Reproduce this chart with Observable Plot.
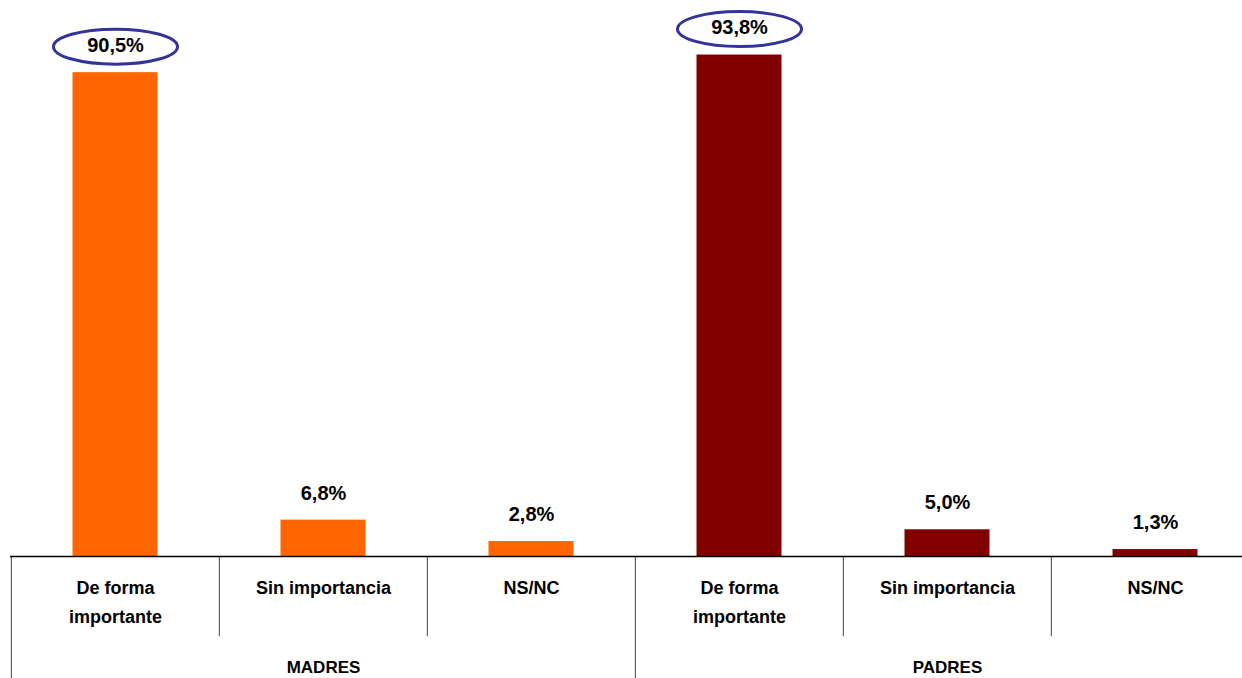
<!DOCTYPE html>
<html>
<head>
<meta charset="utf-8">
<script src="https://cdn.jsdelivr.net/npm/d3@7"></script>
<script src="https://cdn.jsdelivr.net/npm/@observablehq/plot@0.6"></script>
<style>
  html, body { margin: 0; padding: 0; background: #fff; }
  #chart svg { display: block; }
</style>
</head>
<body>
<div id="chart"></div>
<script>
// ---- data ----
const groups = ["MADRES", "PADRES"];
const categories = ["De forma\nimportante", "Sin importancia", "NS/NC"];
const madres = [90.5, 6.8, 2.8];
const padres = [93.8, 5.0, 1.3];
const groupColors = ["#FF6600", "#800000"];

const seriesByGroup = [madres, padres];
const rows = groups.flatMap((g, gi) =>
  categories.map((c, ci) => ({
    group: g,
    category: c,
    first: ci === 0,
    middle: ci === 1,
    key: g + "|" + c,
    value: seriesByGroup[gi][ci]
  }))
);

const fmt = v => v.toFixed(1).replace(".", ",") + "%";
const font = "'Liberation Sans', Arial, sans-serif";

// ellipse symbol for highlighted values
const ellipse = {
  draw(ctx) {
    const rx = 62, ry = 17.5, k = 0.5523;
    ctx.moveTo(rx, 0);
    ctx.bezierCurveTo(rx, ry * k, rx * k, ry, 0, ry);
    ctx.bezierCurveTo(-rx * k, ry, -rx, ry * k, -rx, 0);
    ctx.bezierCurveTo(-rx, -ry * k, -rx * k, -ry, 0, -ry);
    ctx.bezierCurveTo(rx * k, -ry, rx, -ry * k, rx, 0);
    ctx.closePath();
  }
};

const bandHalf = (1260 - 10) / rows.length / 2;

const chart = Plot.plot({
  width: 1242,
  height: 678,
  marginTop: 0,
  marginBottom: 122,
  marginLeft: 10,
  marginRight: 0,
  style: {fontFamily: font, background: "#fff", overflow: "hidden"},
  x: {domain: rows.map(d => d.key), range: [10, 1260], padding: 0, axis: null},
  y: {domain: [0, 104], axis: null},
  color: {domain: groups, range: groupColors},
  marks: [
    Plot.barY(rows, {x: "key", y: "value", fill: "group", insetLeft: 61.5, insetRight: 61.5}),
    Plot.ruleX(rows, {x: "key", dx: -bandHalf, y1: 0, y2: d => d.first ? -23 : -15, stroke: "#444", strokeWidth: 1}),
    Plot.ruleY([0], {stroke: "#000", strokeWidth: 1.5}),
    Plot.text(rows, {x: "key", y: "value", text: d => fmt(d.value), dy: -27, fontSize: 20, fontWeight: "bold", fill: "#000"}),
    Plot.dot(rows.filter(d => d.first), {x: "key", y: "value", dy: -26, symbol: ellipse, fill: "none", stroke: "#333399", strokeWidth: 3}),
    Plot.text(rows, {x: "key", y: 0, text: "category", lineAnchor: "top", lineHeight: 1.65, dy: 16, fontSize: 18, fontWeight: "bold", fill: "#000"}),
    Plot.text(rows.filter(d => d.middle), {x: "key", y: 0, text: "group", dy: 111, fontSize: 17, fontWeight: "bold", fill: "#000"})
  ]
});
document.getElementById("chart").appendChild(chart);
</script>
</body>
</html>
